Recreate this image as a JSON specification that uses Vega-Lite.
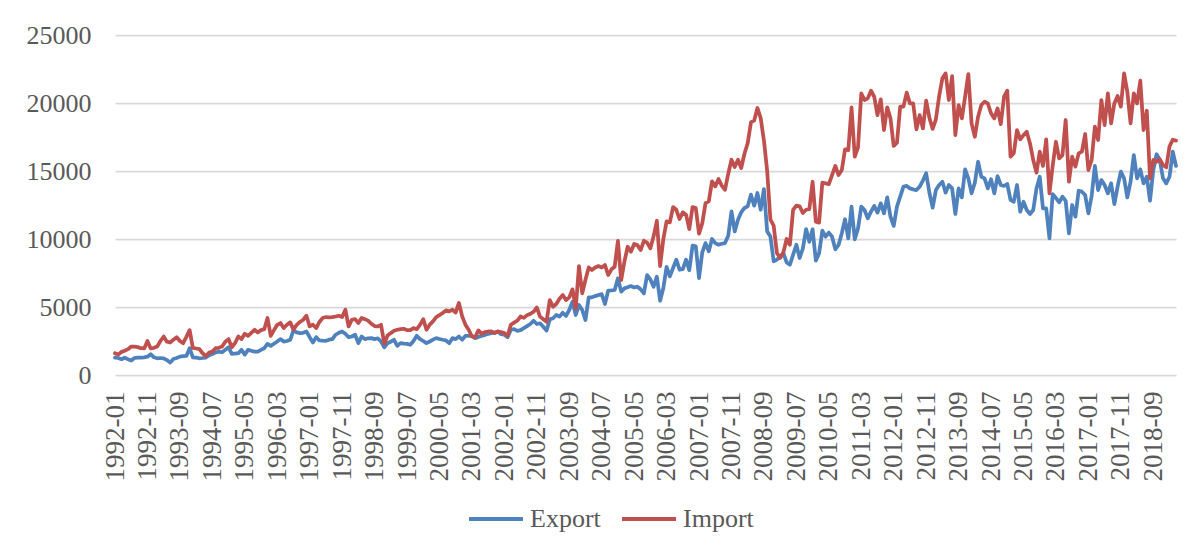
{
"$schema": "https://vega.github.io/schema/vega-lite/v6.json",
"autosize": {"type": "none"},
"padding": {"left": 115, "top": 35, "right": 27, "bottom": 179},
"width": 1061, "height": 340,
"background": "white",
"datasets": {"trade": [
{"m":"1992-01","Export":1280,"Import":1600},{"m":"1992-02","Export":1250,"Import":1500},{"m":"1992-03","Export":1160,"Import":1700},{"m":"1992-04","Export":1280,"Import":1780},{"m":"1992-05","Export":1150,"Import":1900},{"m":"1992-06","Export":1060,"Import":2090},{"m":"1992-07","Export":1250,"Import":2090},{"m":"1992-08","Export":1280,"Import":2050},{"m":"1992-09","Export":1280,"Import":1970},{"m":"1992-10","Export":1300,"Import":1950},{"m":"1992-11","Export":1350,"Import":2500},{"m":"1992-12","Export":1530,"Import":1950},
{"m":"1993-01","Export":1300,"Import":2000},{"m":"1993-02","Export":1230,"Import":2090},{"m":"1993-03","Export":1250,"Import":2500},{"m":"1993-04","Export":1230,"Import":2830},{"m":"1993-05","Export":1100,"Import":2450},{"m":"1993-06","Export":910,"Import":2390},{"m":"1993-07","Export":1180,"Import":2600},{"m":"1993-08","Export":1250,"Import":2780},{"m":"1993-09","Export":1350,"Import":2500},{"m":"1993-10","Export":1380,"Import":2340},{"m":"1993-11","Export":1400,"Import":2800},{"m":"1993-12","Export":1970,"Import":3300},
{"m":"1994-01","Export":1300,"Import":2000},{"m":"1994-02","Export":1280,"Import":1950},{"m":"1994-03","Export":1230,"Import":1900},{"m":"1994-04","Export":1250,"Import":1600},{"m":"1994-05","Export":1280,"Import":1400},{"m":"1994-06","Export":1450,"Import":1650},{"m":"1994-07","Export":1550,"Import":1720},{"m":"1994-08","Export":1650,"Import":1970},{"m":"1994-09","Export":1720,"Import":2000},{"m":"1994-10","Export":1670,"Import":2090},{"m":"1994-11","Export":1850,"Import":2450},{"m":"1994-12","Export":2040,"Import":2640},
{"m":"1995-01","Export":1550,"Import":2040},{"m":"1995-02","Export":1580,"Import":2340},{"m":"1995-03","Export":1600,"Import":2830},{"m":"1995-04","Export":1850,"Import":2640},{"m":"1995-05","Export":1500,"Import":3030},{"m":"1995-06","Export":1850,"Import":2880},{"m":"1995-07","Export":1780,"Import":3100},{"m":"1995-08","Export":1720,"Import":3325},{"m":"1995-09","Export":1720,"Import":3130},{"m":"1995-10","Export":1850,"Import":3300},{"m":"1995-11","Export":1970,"Import":3370},{"m":"1995-12","Export":2290,"Import":4190},
{"m":"1996-01","Export":2140,"Import":2880},{"m":"1996-02","Export":2300,"Import":3300},{"m":"1996-03","Export":2460,"Import":3690},{"m":"1996-04","Export":2640,"Import":3820},{"m":"1996-05","Export":2460,"Import":3450},{"m":"1996-06","Export":2500,"Import":3700},{"m":"1996-07","Export":2590,"Import":3870},{"m":"1996-08","Export":3280,"Import":3325},{"m":"1996-09","Export":3130,"Import":3690},{"m":"1996-10","Export":3080,"Import":3900},{"m":"1996-11","Export":3100,"Import":4060},{"m":"1996-12","Export":3200,"Import":4360},
{"m":"1997-01","Export":2780,"Import":3570},{"m":"1997-02","Export":2390,"Import":3700},{"m":"1997-03","Export":2780,"Import":3450},{"m":"1997-04","Export":2540,"Import":3900},{"m":"1997-05","Export":2520,"Import":4190},{"m":"1997-06","Export":2510,"Import":4260},{"m":"1997-07","Export":2600,"Import":4230},{"m":"1997-08","Export":2640,"Import":4260},{"m":"1997-09","Export":2960,"Import":4300},{"m":"1997-10","Export":3100,"Import":4360},{"m":"1997-11","Export":3200,"Import":4260},{"m":"1997-12","Export":3030,"Import":4800},
{"m":"1998-01","Export":2780,"Import":3570},{"m":"1998-02","Export":2830,"Import":4060},{"m":"1998-03","Export":2960,"Import":4110},{"m":"1998-04","Export":2340,"Import":3820},{"m":"1998-05","Export":2830,"Import":4190},{"m":"1998-06","Export":2640,"Import":4110},{"m":"1998-07","Export":2700,"Import":4000},{"m":"1998-08","Export":2710,"Import":3770},{"m":"1998-09","Export":2640,"Import":3600},{"m":"1998-10","Export":2700,"Import":3570},{"m":"1998-11","Export":2460,"Import":3690},{"m":"1998-12","Export":2040,"Import":2300},
{"m":"1999-01","Export":2340,"Import":2900},{"m":"1999-02","Export":2450,"Import":3080},{"m":"1999-03","Export":2590,"Import":3250},{"m":"1999-04","Export":2140,"Import":3325},{"m":"1999-05","Export":2340,"Import":3370},{"m":"1999-06","Export":2300,"Import":3400},{"m":"1999-07","Export":2290,"Import":3300},{"m":"1999-08","Export":2220,"Import":3300},{"m":"1999-09","Export":2500,"Import":3450},{"m":"1999-10","Export":2880,"Import":3370},{"m":"1999-11","Export":2640,"Import":3690},{"m":"1999-12","Export":2500,"Import":4110},
{"m":"2000-01","Export":2340,"Import":3325},{"m":"2000-02","Export":2460,"Import":3700},{"m":"2000-03","Export":2600,"Import":3940},{"m":"2000-04","Export":2710,"Import":4260},{"m":"2000-05","Export":2650,"Import":4400},{"m":"2000-06","Export":2590,"Import":4560},{"m":"2000-07","Export":2540,"Import":4750},{"m":"2000-08","Export":2340,"Import":4680},{"m":"2000-09","Export":2710,"Import":4800},{"m":"2000-10","Export":2640,"Import":4600},{"m":"2000-11","Export":2830,"Import":5300},{"m":"2000-12","Export":2590,"Import":4310},
{"m":"2001-01","Export":2880,"Import":3700},{"m":"2001-02","Export":2880,"Import":3325},{"m":"2001-03","Export":2880,"Import":2830},{"m":"2001-04","Export":2710,"Import":2780},{"m":"2001-05","Export":2800,"Import":3280},{"m":"2001-06","Export":2880,"Import":3030},{"m":"2001-07","Export":2950,"Import":3150},{"m":"2001-08","Export":3030,"Import":3200},{"m":"2001-09","Export":3080,"Import":3200},{"m":"2001-10","Export":3130,"Import":3080},{"m":"2001-11","Export":3200,"Import":3200},{"m":"2001-12","Export":3000,"Import":3150},
{"m":"2002-01","Export":2960,"Import":3080},{"m":"2002-02","Export":2780,"Import":2880},{"m":"2002-03","Export":3325,"Import":3690},{"m":"2002-04","Export":3370,"Import":3850},{"m":"2002-05","Export":3250,"Import":4000},{"m":"2002-06","Export":3300,"Import":4300},{"m":"2002-07","Export":3450,"Import":4200},{"m":"2002-08","Export":3600,"Import":4400},{"m":"2002-09","Export":3750,"Import":4500},{"m":"2002-10","Export":3990,"Import":4650},{"m":"2002-11","Export":3750,"Import":4970},{"m":"2002-12","Export":3800,"Import":4290},
{"m":"2003-01","Export":3550,"Import":4100},{"m":"2003-02","Export":3260,"Import":3920},{"m":"2003-03","Export":4090,"Import":5510},{"m":"2003-04","Export":4170,"Import":5020},{"m":"2003-05","Export":4410,"Import":5220},{"m":"2003-06","Export":4290,"Import":5600},{"m":"2003-07","Export":4580,"Import":5880},{"m":"2003-08","Export":4340,"Import":5510},{"m":"2003-09","Export":4780,"Import":5710},{"m":"2003-10","Export":5390,"Import":6300},{"m":"2003-11","Export":4410,"Import":4900},{"m":"2003-12","Export":5150,"Import":8010},
{"m":"2004-01","Export":4780,"Import":6000},{"m":"2004-02","Export":4040,"Import":7000},{"m":"2004-03","Export":5710,"Import":7910},{"m":"2004-04","Export":5710,"Import":7720},{"m":"2004-05","Export":5800,"Import":7900},{"m":"2004-06","Export":5880,"Import":8010},{"m":"2004-07","Export":5950,"Import":7910},{"m":"2004-08","Export":5220,"Import":8090},{"m":"2004-09","Export":6200,"Import":7350},{"m":"2004-10","Export":6220,"Import":7770},{"m":"2004-11","Export":6250,"Import":7960},{"m":"2004-12","Export":7110,"Import":9870},
{"m":"2005-01","Export":6130,"Import":6980},{"m":"2005-02","Export":6370,"Import":8330},{"m":"2005-03","Export":6450,"Import":9430},{"m":"2005-04","Export":6540,"Import":9060},{"m":"2005-05","Export":6440,"Import":9630},{"m":"2005-06","Export":6490,"Import":9550},{"m":"2005-07","Export":6300,"Import":9190},{"m":"2005-08","Export":6000,"Import":9870},{"m":"2005-09","Export":7350,"Import":9730},{"m":"2005-10","Export":7030,"Import":9310},{"m":"2005-11","Export":6490,"Import":10200},{"m":"2005-12","Export":7230,"Import":11340},
{"m":"2006-01","Export":5460,"Import":8010},{"m":"2006-02","Export":6400,"Import":10000},{"m":"2006-03","Export":7950,"Import":11300},{"m":"2006-04","Export":7250,"Import":11220},{"m":"2006-05","Export":7870,"Import":12350},{"m":"2006-06","Export":8480,"Import":12150},{"m":"2006-07","Export":7740,"Import":11470},{"m":"2006-08","Export":7790,"Import":11960},{"m":"2006-09","Export":8480,"Import":11790},{"m":"2006-10","Export":7700,"Import":10730},{"m":"2006-11","Export":9510,"Import":12350},{"m":"2006-12","Export":9460,"Import":12280},
{"m":"2007-01","Export":7130,"Import":10390},{"m":"2007-02","Export":9020,"Import":11170},{"m":"2007-03","Export":9700,"Import":12640},{"m":"2007-04","Export":9090,"Import":12770},{"m":"2007-05","Export":10000,"Import":14240},{"m":"2007-06","Export":9700,"Import":13870},{"m":"2007-07","Export":9580,"Import":14410},{"m":"2007-08","Export":9650,"Import":13920},{"m":"2007-09","Export":9700,"Import":13620},{"m":"2007-10","Export":10240,"Import":14800},{"m":"2007-11","Export":12030,"Import":15830},{"m":"2007-12","Export":10560,"Import":15290},
{"m":"2008-01","Export":11420,"Import":15830},{"m":"2008-02","Export":11960,"Import":15220},{"m":"2008-03","Export":12280,"Import":16270},{"m":"2008-04","Export":12400,"Import":17050},{"m":"2008-05","Export":13260,"Import":18570},{"m":"2008-06","Export":12450,"Import":18720},{"m":"2008-07","Export":13380,"Import":19630},{"m":"2008-08","Export":12150,"Import":18890},{"m":"2008-09","Export":13670,"Import":17250},{"m":"2008-10","Export":10560,"Import":15000},{"m":"2008-11","Export":10190,"Import":11420},{"m":"2008-12","Export":8360,"Import":10980},
{"m":"2009-01","Export":8480,"Import":8970},{"m":"2009-02","Export":8700,"Import":8600},{"m":"2009-03","Export":8970,"Import":9020},{"m":"2009-04","Export":8280,"Import":10000},{"m":"2009-05","Export":8110,"Import":9580},{"m":"2009-06","Export":8850,"Import":12150},{"m":"2009-07","Export":9580,"Import":12450},{"m":"2009-08","Export":8600,"Import":12400},{"m":"2009-09","Export":9300,"Import":11910},{"m":"2009-10","Export":10730,"Import":12150},{"m":"2009-11","Export":9800,"Import":12200},{"m":"2009-12","Export":10710,"Import":14210},
{"m":"2010-01","Export":8410,"Import":11270},{"m":"2010-02","Export":8950,"Import":11200},{"m":"2010-03","Export":10610,"Import":14140},{"m":"2010-04","Export":10170,"Import":14090},{"m":"2010-05","Export":10470,"Import":14040},{"m":"2010-06","Export":10170,"Import":14700},{"m":"2010-07","Export":9240,"Import":15370},{"m":"2010-08","Export":9560,"Import":14700},{"m":"2010-09","Export":10420,"Import":15070},{"m":"2010-10","Export":11450,"Import":16590},{"m":"2010-11","Export":10050,"Import":16540},{"m":"2010-12","Export":12380,"Import":19680},
{"m":"2011-01","Export":9980,"Import":16050},{"m":"2011-02","Export":10780,"Import":16740},{"m":"2011-03","Export":12380,"Import":20710},{"m":"2011-04","Export":12130,"Import":20220},{"m":"2011-05","Export":11520,"Import":20340},{"m":"2011-06","Export":12010,"Import":20900},{"m":"2011-07","Export":12430,"Import":20460},{"m":"2011-08","Export":11940,"Import":19110},{"m":"2011-09","Export":12620,"Import":20270},{"m":"2011-10","Export":11890,"Import":18010},{"m":"2011-11","Export":13060,"Import":19680},{"m":"2011-12","Export":11640,"Import":18870},
{"m":"2012-01","Export":10960,"Import":16840},{"m":"2012-02","Export":12380,"Import":17080},{"m":"2012-03","Export":13110,"Import":19730},{"m":"2012-04","Export":13850,"Import":19730},{"m":"2012-05","Export":13900,"Import":20760},{"m":"2012-06","Export":13720,"Import":19970},{"m":"2012-07","Export":13650,"Import":19970},{"m":"2012-08","Export":13600,"Import":18060},{"m":"2012-09","Export":13850,"Import":19110},{"m":"2012-10","Export":14300,"Import":18130},{"m":"2012-11","Export":14830,"Import":20170},{"m":"2012-12","Export":13400,"Import":18900},
{"m":"2013-01","Export":12300,"Import":18100},{"m":"2013-02","Export":13600,"Import":18800},{"m":"2013-03","Export":13970,"Import":20500},{"m":"2013-04","Export":14210,"Import":21810},{"m":"2013-05","Export":13410,"Import":22180},{"m":"2013-06","Export":13970,"Import":20220},{"m":"2013-07","Export":13720,"Import":21980},{"m":"2013-08","Export":11840,"Import":17640},{"m":"2013-09","Export":13720,"Import":19850},{"m":"2013-10","Export":13060,"Import":18870},{"m":"2013-11","Export":15120,"Import":20460},{"m":"2013-12","Export":14460,"Import":22130},
{"m":"2014-01","Export":13360,"Import":18500},{"m":"2014-02","Export":14140,"Import":17520},{"m":"2014-03","Export":15680,"Import":18990},{"m":"2014-04","Export":14580,"Import":19850},{"m":"2014-05","Export":14460,"Import":20090},{"m":"2014-06","Export":13720,"Import":19970},{"m":"2014-07","Export":14390,"Import":19240},{"m":"2014-08","Export":13360,"Import":18870},{"m":"2014-09","Export":14630,"Import":19600},{"m":"2014-10","Export":13970,"Import":18450},{"m":"2014-11","Export":13900,"Import":20460},{"m":"2014-12","Export":14040,"Import":20900},
{"m":"2015-01","Export":12870,"Import":16050},{"m":"2015-02","Export":12740,"Import":16300},{"m":"2015-03","Export":13970,"Import":18010},{"m":"2015-04","Export":12010,"Import":17330},{"m":"2015-05","Export":12740,"Import":17640},{"m":"2015-06","Export":12130,"Import":17890},{"m":"2015-07","Export":11840,"Import":17030},{"m":"2015-08","Export":12130,"Import":15810},{"m":"2015-09","Export":13720,"Import":14880},{"m":"2015-10","Export":14580,"Import":16420},{"m":"2015-11","Export":12250,"Import":15370},{"m":"2015-12","Export":12250,"Import":17330},
{"m":"2016-01","Export":10050,"Import":13360},{"m":"2016-02","Export":13300,"Import":15400},{"m":"2016-03","Export":13000,"Import":17150},{"m":"2016-04","Export":12700,"Import":15930},{"m":"2016-05","Export":13110,"Import":16170},{"m":"2016-06","Export":12800,"Import":18750},{"m":"2016-07","Export":10420,"Import":14210},{"m":"2016-08","Export":12500,"Import":16050},{"m":"2016-09","Export":11640,"Import":15320},{"m":"2016-10","Export":13550,"Import":16300},{"m":"2016-11","Export":13480,"Import":16420},{"m":"2016-12","Export":13230,"Import":17720},
{"m":"2017-01","Export":11890,"Import":15070},{"m":"2017-02","Export":13160,"Import":15810},{"m":"2017-03","Export":15370,"Import":18260},{"m":"2017-04","Export":13600,"Import":17280},{"m":"2017-05","Export":14330,"Import":20220},{"m":"2017-06","Export":13970,"Import":18380},{"m":"2017-07","Export":13360,"Import":20710},{"m":"2017-08","Export":14090,"Import":18500},{"m":"2017-09","Export":12570,"Import":19970},{"m":"2017-10","Export":13850,"Import":20510},{"m":"2017-11","Export":14950,"Import":19730},{"m":"2017-12","Export":14460,"Import":22180},
{"m":"2018-01","Export":13060,"Import":20830},{"m":"2018-02","Export":14210,"Import":18500},{"m":"2018-03","Export":16170,"Import":20710},{"m":"2018-04","Export":14460,"Import":19970},{"m":"2018-05","Export":15120,"Import":21640},{"m":"2018-06","Export":14090,"Import":18010},{"m":"2018-07","Export":14580,"Import":19430},{"m":"2018-08","Export":12820,"Import":14460},{"m":"2018-09","Export":15070,"Import":15810},{"m":"2018-10","Export":16230,"Import":15680},{"m":"2018-11","Export":15810,"Import":15860},{"m":"2018-12","Export":14460,"Import":15440},
{"m":"2019-01","Export":14090,"Import":15270},{"m":"2019-02","Export":14580,"Import":16800},{"m":"2019-03","Export":16420,"Import":17300},{"m":"2019-04","Export":15370,"Import":17230}
]},
"data": {"name": "trade"},
"transform": [{"fold": ["Export", "Import"], "as": ["series", "value"]}],
"mark": {"type": "line", "strokeWidth": 3.75, "strokeJoin": "round", "strokeCap": "round"},
"encoding": {
  "x": {"field": "m", "type": "ordinal", "sort": null,
    "scale": {"type": "point", "padding": 0},
    "axis": {"title": null, "values": ["1992-01","1992-11","1993-09","1994-07","1995-05","1996-03","1997-01","1997-11","1998-09","1999-07","2000-05","2001-03","2002-01","2002-11","2003-09","2004-07","2005-05","2006-03","2007-01","2007-11","2008-09","2009-07","2010-05","2011-03","2012-01","2012-11","2013-09","2014-07","2015-05","2016-03","2017-01","2017-11","2018-09"],
      "labelAngle": -90, "labelFont": "Liberation Serif", "labelFontSize": 27, "labelColor": "#595959",
      "ticks": false, "domain": false, "grid": false, "labelPadding": 16, "labelOverlap": false}},
  "y": {"field": "value", "type": "quantitative",
    "scale": {"domain": [0, 25000], "nice": false},
    "axis": {"title": null, "values": [0, 5000, 10000, 15000, 20000, 25000], "format": "d",
      "labelFont": "Liberation Serif", "labelFontSize": 26, "labelColor": "#595959",
      "ticks": false, "domain": false, "grid": true, "gridColor": "#D9D9D9", "gridWidth": 1.75, "labelPadding": 24}},
  "color": {"field": "series", "type": "nominal",
    "scale": {"domain": ["Export", "Import"], "range": ["#4F81BD", "#C0504D"]},
    "legend": {"title": null, "orient": "none", "legendX": 352, "legendY": 455, "direction": "horizontal",
      "symbolType": "stroke", "symbolSize": 2916, "symbolStrokeWidth": 4,
      "labelFont": "Liberation Serif", "labelFontSize": 26, "labelColor": "#595959",
      "columnPadding": 13, "labelOffset": 5}}
},
"config": {"view": {"stroke": null}}
}
